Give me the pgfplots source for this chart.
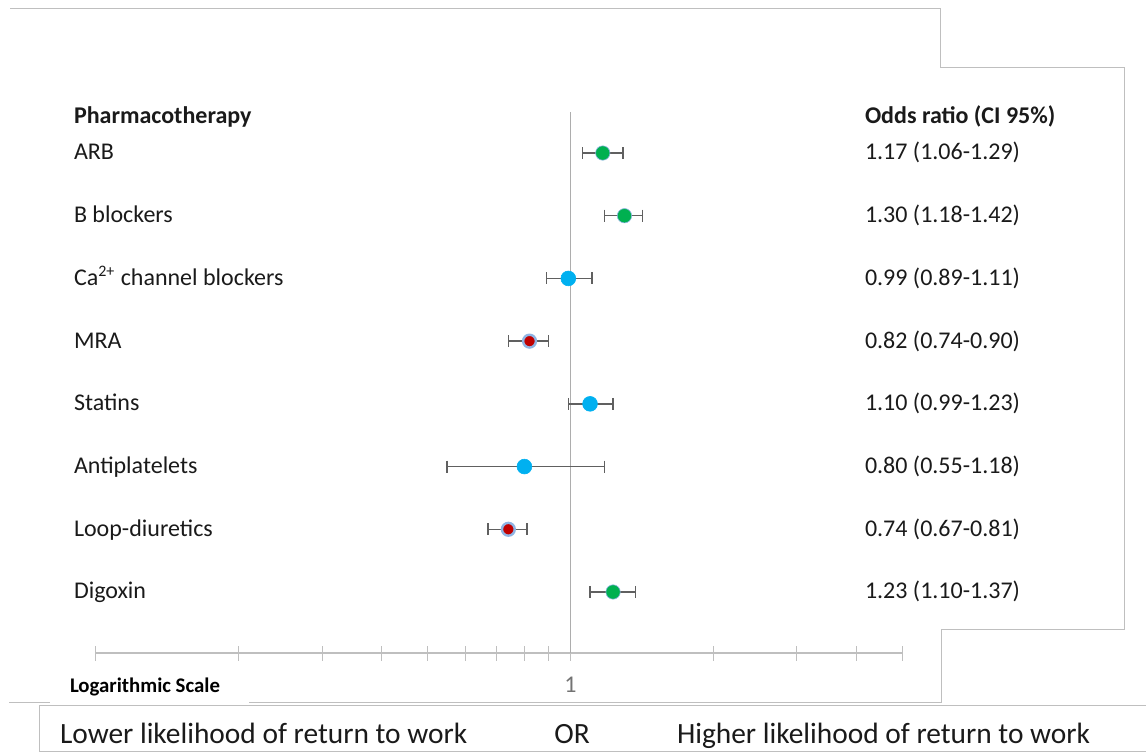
\documentclass[border=0pt]{standalone}
\usepackage{pgfplots}
\pgfplotsset{compat=1.18}
\usepackage{fontspec}
\setmainfont{Carlito}
\definecolor{cgreen}{HTML}{00B050}
\definecolor{cblue}{HTML}{00B0F0}
\definecolor{cred}{HTML}{C00000}
\definecolor{ring}{HTML}{8FB4E3}
\definecolor{errcol}{HTML}{606060}
\definecolor{linegray}{HTML}{BFBFBF}
\definecolor{vgray}{HTML}{ADADAD}
\definecolor{txt}{HTML}{1A1A1A}
\newcommand{\rowfont}{\fontsize{12}{14}\selectfont}
\begin{document}
\begin{tikzpicture}[x=0.5pt,y=-0.5pt, every node/.style={inner sep=0pt, outer sep=0pt}]
\useasboundingbox (0,0) rectangle (1146,754);
% frame lines
\draw[linegray, line width=0.5pt] (10,9) -- (940,9) -- (940,68) -- (1124,68) -- (1124,629) -- (941,629) -- (941,702) -- (249,702);
\draw[linegray, line width=0.5pt] (9,702) -- (50,702);
\draw[linegray, line width=0.5pt] (1146,705) -- (39,705) -- (39,751) -- (1146,751);
\begin{axis}[at={(48pt,-326.5pt)}, anchor=south west, scale only axis,
  width=403pt, height=270.5pt,
  xmode=log, xmin=0.1, xmax=5, ymin=-8.973, ymax=-0.3462,
  axis x line=bottom, axis y line=none,
  axis line style={-, draw=linegray, line width=0.6pt},
  xtick={0.1,0.2,0.3,0.4,0.5,0.6,0.7,0.8,0.9,1,2,3,4,5}, minor xtick={},
  xticklabels={,,,,,,,,,1,,,,},
  tick align=center, major tick length=7.5pt,
  tick style={draw=linegray, line width=0.5pt},
  xticklabel style={font=\fontsize{12}{14}\selectfont, text=gray!90!black, yshift=-8.5pt},
  clip=false]
\addplot[vgray, line width=0.9pt] coordinates {(1,-0.3462) (1,-8.973)};
% confidence intervals
\addplot[errcol, line width=0.75pt, mark=|, mark size=3pt, mark options={line width=0.75pt}] coordinates {(1.06,-1) (1.29,-1)};
\addplot[errcol, line width=0.75pt, mark=|, mark size=3pt, mark options={line width=0.75pt}] coordinates {(1.18,-2) (1.42,-2)};
\addplot[errcol, line width=0.75pt, mark=|, mark size=3pt, mark options={line width=0.75pt}] coordinates {(0.89,-3) (1.11,-3)};
\addplot[errcol, line width=0.75pt, mark=|, mark size=3pt, mark options={line width=0.75pt}] coordinates {(0.74,-4) (0.90,-4)};
\addplot[errcol, line width=0.75pt, mark=|, mark size=3pt, mark options={line width=0.75pt}] coordinates {(0.99,-5) (1.23,-5)};
\addplot[errcol, line width=0.75pt, mark=|, mark size=3pt, mark options={line width=0.75pt}] coordinates {(0.55,-6) (1.18,-6)};
\addplot[errcol, line width=0.75pt, mark=|, mark size=3pt, mark options={line width=0.75pt}] coordinates {(0.67,-7) (0.81,-7)};
\addplot[errcol, line width=0.75pt, mark=|, mark size=3pt, mark options={line width=0.75pt}] coordinates {(1.10,-8) (1.37,-8)};
% point estimates
\addplot[only marks, mark=*, mark size=3.6pt, mark options={fill=cgreen, draw=ring, line width=0.3pt}] coordinates {(1.17,-1) (1.30,-2) (1.23,-8)};
\addplot[only marks, mark=*, mark size=3.7pt, mark options={fill=cblue, draw=cblue, line width=0.3pt}] coordinates {(0.99,-3) (1.10,-5) (0.80,-6)};
\addplot[only marks, mark=*, mark size=3.2pt, mark options={fill=cred, draw=ring, line width=1.2pt}] coordinates {(0.82,-4) (0.74,-7)};
\end{axis}
% headers
\node[anchor=base west, text=txt, font=\rowfont\bfseries] at (74,124) {Pharmacotherapy};
\node[anchor=base west, text=txt, font=\rowfont\bfseries] at (865,124) {Odds ratio (CI 95\%)};
% row labels and values
\foreach \lab/\val [count=\i] in {ARB/1.17 (1.06-1.29), B blockers/1.30 (1.18-1.42), Ca\textsuperscript{2+} channel blockers/0.99 (0.89-1.11), MRA/0.82 (0.74-0.90), Statins/1.10 (0.99-1.23), Antiplatelets/0.80 (0.55-1.18), Loop-diuretics/0.74 (0.67-0.81), Digoxin/1.23 (1.10-1.37)} {
  \pgfmathsetmacro{\yy}{153+(\i-1)*62.71+7}
  \node[anchor=base west, text=txt, font=\rowfont] at (74,\yy) {\lab};
  \node[anchor=base west, text=txt, font=\rowfont] at (865,\yy) {\val};
}
\node[anchor=base west, text=black, font=\fontsize{10.4}{12}\selectfont\bfseries] at (70,692) {Logarithmic Scale};
% bottom legend text
\node[anchor=base west, text=txt, font=\fontsize{14.7}{17}\selectfont] at (60,743) {Lower likelihood of return to work};
\node[anchor=base, text=txt, font=\fontsize{14.7}{17}\selectfont] at (572,743) {OR};
\node[anchor=base west, text=txt, font=\fontsize{14.7}{17}\selectfont] at (677,743) {Higher likelihood of return to work};
\end{tikzpicture}
\end{document}
